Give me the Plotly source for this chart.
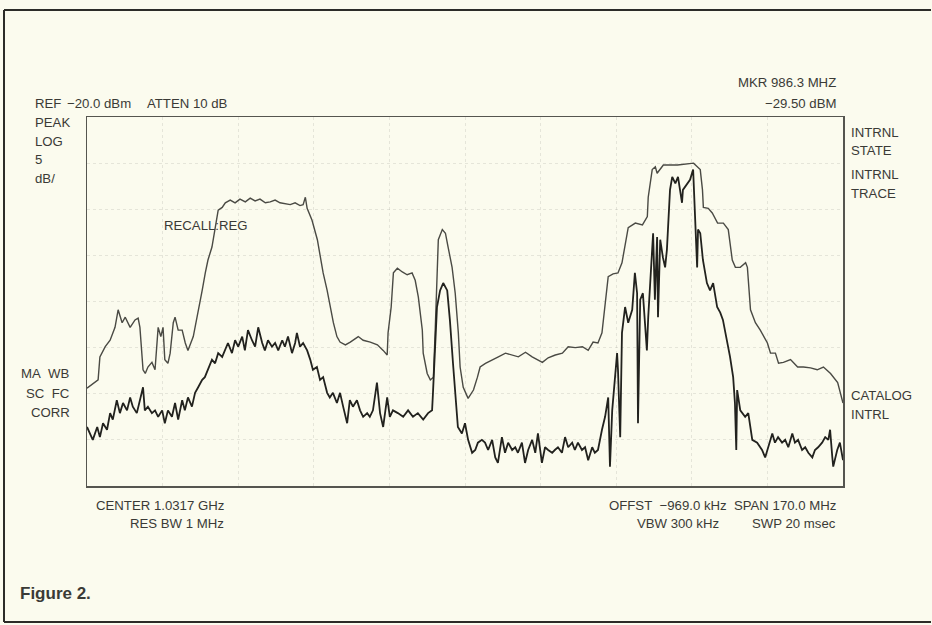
import plotly.graph_objects as go

# ---- data: frequency (MHz) and level (dBm) ----
upper_freq_mhz = [946.7, 949.2, 949.6, 950.8, 951.9, 953.0, 953.7, 954.6, 955.3, 956.4,
                  957.5, 958.2, 958.6, 959.3, 959.8, 960.4, 961.3, 962.0, 962.7, 963.3,
                  963.8, 964.2, 964.9, 965.4, 966.1, 966.5, 967.2, 968.1, 968.8, 969.4,
                  970.6, 971.7, 972.6, 973.3, 973.9, 974.8, 975.5, 976.2, 977.1, 977.8,
                  978.9, 980.0, 981.1, 982.3, 983.4, 984.5, 985.6, 986.8, 987.9, 989.0,
                  990.1, 991.3, 992.4, 993.5, 994.6, 995.3, 995.8, 996.2, 997.3, 998.5,
                  999.1, 999.8, 1000.7, 1001.4, 1002.1, 1002.9, 1003.6, 1004.8, 1005.9, 1007.7,
                  1008.8, 1010.4, 1012.0, 1013.3, 1014.2, 1014.4, 1015.1, 1015.6, 1016.5, 1017.6,
                  1018.7, 1019.8, 1020.5, 1021.2, 1022.1, 1022.3, 1023.2, 1023.9, 1024.6, 1025.0,
                  1025.5, 1025.7, 1026.6, 1027.3, 1027.9, 1028.8, 1029.5, 1030.2, 1030.6, 1031.3,
                  1032.4, 1033.6, 1034.5, 1035.1, 1036.3, 1037.8, 1039.2, 1040.8, 1042.3, 1043.7,
                  1045.3, 1046.8, 1049.1, 1050.4, 1052.0, 1053.6, 1054.9, 1056.5, 1058.1, 1059.4,
                  1060.5, 1061.6, 1062.5, 1063.2, 1063.9, 1065.0, 1066.1, 1067.0, 1067.7, 1068.4,
                  1070.0, 1071.6, 1072.7, 1072.9, 1073.8, 1074.5, 1074.9, 1076.3, 1079.5, 1083.1,
                  1084.6, 1085.1, 1085.3, 1086.4, 1087.3, 1088.5, 1089.8, 1090.9, 1091.8, 1092.5,
                  1093.6, 1094.8, 1095.2, 1095.9, 1097.0, 1098.1, 1099.7, 1100.4, 1101.5, 1102.2,
                  1103.3, 1104.9, 1106.5, 1107.8, 1109.4, 1110.9, 1112.3, 1113.9, 1115.5, 1116.1,
                  1116.7]
upper_level_dbm = [-49.4, -48.5, -46.0, -44.9, -44.2, -42.8, -40.9, -42.3, -41.7, -42.8,
                   -42.0, -41.8, -42.8, -47.4, -47.8, -47.1, -46.6, -47.4, -42.8, -43.8,
                   -42.8, -46.3, -46.7, -45.6, -42.3, -41.7, -43.1, -43.1, -44.5, -45.3,
                   -43.8, -41.2, -38.8, -36.9, -35.5, -34.1, -31.9, -30.1, -29.8, -29.3,
                   -29.0, -29.3, -28.9, -29.2, -28.8, -29.1, -28.9, -29.3, -29.2, -29.0,
                   -29.3, -29.4, -29.5, -29.3, -29.6, -29.5, -28.7, -29.9, -31.2, -33.3,
                   -35.2, -36.9, -38.8, -40.6, -42.3, -43.8, -44.4, -44.7, -44.4, -43.8,
                   -44.2, -44.4, -44.7, -45.3, -45.8, -43.4, -40.6, -36.9, -36.4, -36.8,
                   -37.1, -36.9, -37.7, -39.5, -43.1, -45.6, -47.8, -48.5, -48.2, -43.1,
                   -36.9, -33.3, -32.2, -32.6, -34.1, -36.3, -39.1, -43.4, -47.1, -49.3,
                   -50.5, -49.6, -48.2, -47.1, -46.7, -46.3, -46.0, -45.6, -45.8, -46.0,
                   -45.5, -46.0, -46.6, -46.1, -45.8, -45.6, -44.9, -45.0, -44.9, -45.3,
                   -44.4, -44.5, -43.4, -40.2, -37.3, -37.0, -36.9, -35.8, -33.7, -32.0,
                   -31.5, -31.7, -30.8, -28.7, -25.7, -25.4, -26.1, -25.2, -25.2, -25.0,
                   -25.7, -27.9, -29.8, -29.9, -30.4, -31.5, -31.5, -32.2, -35.5, -36.3,
                   -36.3, -35.8, -36.3, -40.9, -42.3, -43.1, -44.5, -45.6, -45.6, -46.7,
                   -46.6, -46.3, -47.1, -47.1, -47.2, -47.4, -47.1, -47.8, -48.8, -49.9,
                   -51.0]

lower_freq_mhz = [946.7, 947.4, 948.0, 949.0, 949.6, 950.3, 951.2, 951.9, 952.5, 953.4,
                  954.1, 954.8, 955.7, 956.4, 957.0, 957.9, 958.6, 959.3, 959.7, 960.4,
                  961.3, 962.0, 962.7, 963.6, 964.2, 964.9, 965.8, 966.5, 967.2, 968.1,
                  968.7, 969.4, 970.3, 971.0, 971.7, 972.6, 973.2, 973.9, 974.8, 975.5,
                  976.2, 977.1, 977.7, 978.4, 979.3, 980.0, 980.7, 981.6, 982.2, 982.9,
                  983.8, 984.5, 985.2, 986.1, 986.7, 987.4, 988.3, 989.0, 989.7, 990.6,
                  991.2, 991.9, 992.8, 993.5, 993.9, 994.6, 995.3, 996.2, 996.9, 997.5,
                  998.4, 999.1, 999.8, 1000.7, 1001.3, 1002.0, 1002.9, 1003.6, 1004.3, 1005.2,
                  1005.8, 1006.5, 1007.4, 1008.1, 1008.8, 1009.7, 1010.3, 1011.0, 1011.9, 1012.6,
                  1013.3, 1014.2, 1014.8, 1015.5, 1016.6, 1017.8, 1018.9, 1020.0, 1021.1, 1022.3,
                  1023.4, 1024.3, 1024.5, 1025.0, 1025.4, 1026.1, 1026.8, 1027.7, 1028.3, 1029.0,
                  1029.5, 1029.9, 1030.1, 1031.0, 1031.7, 1032.4, 1033.3, 1034.0, 1034.6, 1035.5,
                  1036.2, 1036.9, 1037.8, 1038.5, 1039.1, 1040.0, 1040.7, 1041.4, 1042.3, 1043.0,
                  1043.6, 1044.5, 1045.2, 1045.9, 1046.8, 1047.5, 1048.1, 1049.0, 1049.7, 1050.4,
                  1051.3, 1051.9, 1052.6, 1053.5, 1054.2, 1054.9, 1055.8, 1056.4, 1057.1, 1058.0,
                  1058.7, 1059.4, 1060.3, 1060.9, 1061.6, 1062.5, 1063.2, 1063.9, 1064.3, 1064.8,
                  1065.4, 1065.9, 1066.1, 1066.6, 1067.0, 1067.7, 1068.4, 1069.3, 1069.9, 1070.4,
                  1070.6, 1071.1, 1071.7, 1072.6, 1072.9, 1073.8, 1074.0, 1074.4, 1074.9, 1075.1,
                  1075.6, 1076.2, 1076.7, 1077.1, 1077.4, 1077.8, 1078.3, 1079.0, 1079.6, 1080.5,
                  1080.7, 1081.6, 1082.3, 1083.0, 1083.4, 1083.9, 1084.1, 1084.6, 1085.2, 1086.1,
                  1086.8, 1087.5, 1088.4, 1089.1, 1089.7, 1090.6, 1091.3, 1092.0, 1092.4, 1092.7,
                  1092.9, 1093.6, 1094.7, 1095.4, 1096.3, 1097.4, 1098.5, 1099.2, 1099.9, 1100.8,
                  1101.4, 1102.1, 1103.0, 1103.7, 1104.4, 1105.3, 1105.9, 1106.6, 1107.5, 1108.2,
                  1108.9, 1109.8, 1110.4, 1111.1, 1112.0, 1112.7, 1113.4, 1113.8, 1114.3, 1114.5,
                  1115.4, 1116.0, 1116.7]
lower_level_dbm = [-53.6, -54.3, -55.0, -53.6, -54.7, -53.2, -53.9, -52.1, -52.8, -50.7,
                   -52.1, -51.0, -51.8, -50.4, -51.4, -52.1, -50.7, -49.3, -51.8, -51.4,
                   -52.1, -51.8, -52.5, -51.8, -53.2, -51.8, -52.5, -51.0, -52.8, -50.7,
                   -51.8, -50.4, -51.4, -49.9, -49.3, -48.5, -48.2, -47.4, -46.3, -46.7,
                   -45.6, -46.0, -45.3, -44.5, -45.6, -44.2, -44.9, -43.8, -45.3, -43.1,
                   -44.2, -44.9, -42.8, -44.5, -45.3, -44.2, -44.9, -44.5, -45.3, -44.2,
                   -44.9, -43.8, -45.6, -44.5, -43.4, -44.9, -44.5, -45.3, -46.3, -47.4,
                   -47.1, -48.5, -48.2, -49.9, -50.4, -49.9, -51.0, -49.9, -51.4, -53.2,
                   -50.7, -51.4, -50.7, -51.8, -52.5, -52.1, -52.5, -51.8, -48.8, -52.1,
                   -53.6, -50.4, -52.5, -51.8, -52.1, -52.5, -51.8, -52.5, -52.1, -52.8,
                   -52.1, -51.8, -49.9, -44.9, -40.6, -38.8, -38.0, -38.8, -42.0, -46.7,
                   -49.9, -51.8, -53.6, -54.3, -53.2, -55.0, -56.4, -56.1, -55.3, -55.0,
                   -55.3, -56.1, -55.0, -56.9, -57.5, -54.7, -56.4, -55.3, -56.1, -55.8,
                   -56.4, -55.3, -57.5, -56.1, -55.0, -56.4, -54.3, -57.5, -55.8, -56.1,
                   -56.4, -56.1, -55.8, -56.4, -54.7, -55.8, -55.3, -56.1, -55.3, -56.1,
                   -55.8, -57.2, -55.8, -56.4, -56.1, -53.9, -52.5, -50.4, -57.9, -51.8,
                   -48.8, -45.6, -47.4, -54.7, -43.4, -40.6, -42.3, -40.9, -36.9, -39.1,
                   -53.2, -39.8, -39.1, -45.3, -41.7, -35.2, -32.6, -39.8, -33.0, -41.7,
                   -33.3, -35.2, -36.3, -34.4, -30.8, -27.9, -26.5, -27.2, -26.5, -29.3,
                   -27.9, -27.2, -26.8, -25.7, -31.2, -36.3, -32.2, -32.6, -35.5, -38.0,
                   -38.8, -38.0, -40.6, -41.2, -42.0, -44.2, -46.0, -48.2, -51.0, -56.1,
                   -49.6, -51.8, -52.5, -52.1, -55.0, -55.3, -56.1, -56.9, -55.8, -54.3,
                   -55.3, -54.7, -55.3, -55.0, -55.8, -54.3, -55.3, -55.0, -56.1, -55.8,
                   -56.4, -56.9, -56.1, -55.8, -55.3, -54.7, -55.0, -53.9, -56.9, -57.9,
                   -56.1, -55.3, -57.2]

# screen settings
start_mhz = 946.7
stop_mhz = 1116.7
ref_dbm = -20.0
db_per_div = 5.0
n_xdiv = 10
n_ydiv = 8

BG = "#fbfbee"
INK = "#3a3a36"
FONT = "Liberation Sans, Arial, sans-serif"

# plot area in page pixels
L, R, T, B = 87, 843, 117, 486
W, H = 932, 625


def P(px, py):
    return (px - L) / (R - L), (B - py) / (B - T)


fig = go.Figure()
fig.add_trace(go.Scatter(x=upper_freq_mhz, y=upper_level_dbm, mode="lines",
                         line=dict(color="#4a4a44", width=1.4), hoverinfo="skip",
                         showlegend=False))
fig.add_trace(go.Scatter(x=lower_freq_mhz, y=lower_level_dbm, mode="lines",
                         line=dict(color="#22221e", width=1.8), hoverinfo="skip",
                         showlegend=False))

span = stop_mhz - start_mhz
GRID = "rgba(120,120,110,0.16)"
fig.update_xaxes(range=[start_mhz, stop_mhz], showticklabels=False, ticks="",
                 showgrid=True, gridcolor=GRID, griddash="dot",
                 gridwidth=1, tick0=start_mhz, dtick=span / n_xdiv,
                 showline=True, linecolor="#55554f", linewidth=1.5, mirror=True,
                 zeroline=False, fixedrange=True)
fig.update_yaxes(range=[ref_dbm - db_per_div * n_ydiv, ref_dbm], showticklabels=False,
                 ticks="", showgrid=True, gridcolor=GRID,
                 griddash="dot", gridwidth=1, tick0=ref_dbm, dtick=db_per_div,
                 showline=True, linecolor="#55554f", linewidth=1.5, mirror=True,
                 zeroline=False, fixedrange=True)

ann = []


def text(s, px, py, anchor="left", size=13.2, bold=False):
    x, y = P(px, py)
    ann.append(dict(text=("<b>%s</b>" % s) if bold else s, x=x, y=y, xref="paper",
                    yref="paper", xanchor=anchor, yanchor="middle", showarrow=False,
                    font=dict(family=FONT, size=size, color=INK)))


NB = "\u00a0"
text("REF", 33, 103)
text("\u221220.0 dBm", 65, 103)
text("ATTEN 10 dB", 145, 103)
text("PEAK", 33, 123)
text("LOG", 33, 141)
text("5", 33, 159)
text("dB/", 33, 178)
text("MKR 986.3 MHZ", 838, 83, anchor="right")
text("\u221229.50 dBM", 838, 103, anchor="right")
text("INTRNL", 849, 132)
text("STATE", 849, 151)
text("INTRNL", 849, 174)
text("TRACE", 849, 193)
text("CATALOG", 849, 395)
text("INTRL", 849, 414)
text("MA" + NB * 2 + "WB", 72, 373, anchor="right")
text("SC" + NB * 2 + "FC", 72, 393, anchor="right")
text("CORR", 72, 412, anchor="right")
text("RECALL:REG", 162, 225)
text("CENTER 1.0317 GHz", 226, 505, anchor="right")
text("RES BW 1 MHz", 226, 523, anchor="right")
text("OFFST" + NB * 2 + "\u2212969.0 kHz" + NB * 2 + "SPAN 170.0 MHz", 838, 505, anchor="right")
text("VBW 300 kHz", 721, 523, anchor="right")
text("SWP 20 msec", 838, 523, anchor="right")
text("Figure 2.", 18, 593, size=17, bold=True)

shapes = []
x_left, y_top = P(4, 10)
x_right, y_bot = P(931, 622)
for (a, b, c, d) in [(x_left, y_top, x_right, y_top), (x_left, y_bot, x_left, y_top),
                     (x_left, y_bot, x_right, y_bot)]:
    shapes.append(dict(type="line", xref="paper", yref="paper", x0=a, y0=b, x1=c, y1=d,
                       line=dict(color="#2c2c28", width=2)))

fig.update_layout(width=W, height=H, margin=dict(l=L, r=W - R, t=T, b=H - B, pad=0),
                  paper_bgcolor=BG, plot_bgcolor=BG, annotations=ann, shapes=shapes,
                  showlegend=False, font=dict(family=FONT, color=INK))

fig.write_html("out.html", config={"displayModeBar": False, "staticPlot": True},
               post_script="document.body.style.margin='0';document.body.style.padding='0';"
                           "document.body.style.background='" + BG + "';")
